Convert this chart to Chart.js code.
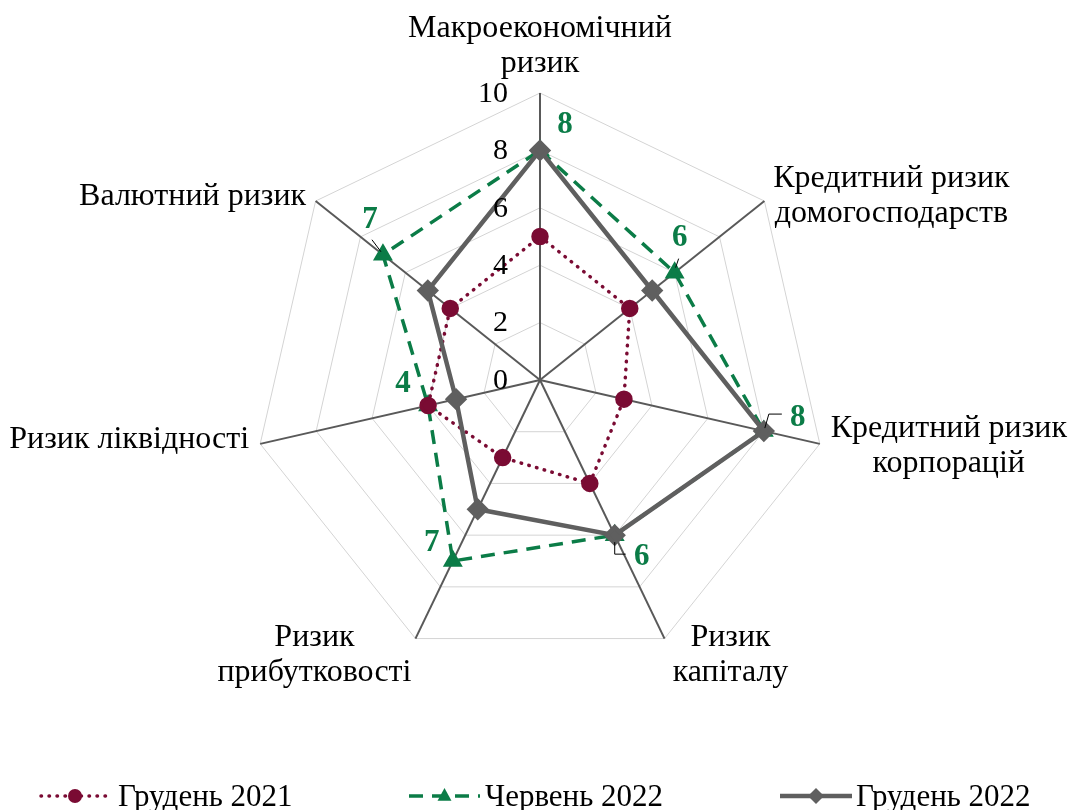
<!DOCTYPE html>
<html>
<head>
<meta charset="utf-8">
<script src="https://cdn.jsdelivr.net/npm/chart.js@4.4.1/dist/chart.umd.min.js"></script>
<style>
  body { margin: 0; background: #fff; }
  #wrap { width: 1072px; height: 810px; }
</style>
</head>
<body>
<div id="wrap"><canvas id="riskChart" width="1072" height="810"></canvas></div>
<script>
// axis names (multi-line)
const categories = [
  ['Макроекономічний', 'ризик'],
  ['Кредитний ризик', 'домогосподарств'],
  ['Кредитний ризик', 'корпорацій'],
  ['Ризик', 'капіталу'],
  ['Ризик', 'прибутковості'],
  ['Ризик ліквідності'],
  ['Валютний ризик']
];

// series values
const dec2021 = [5, 4, 3, 4, 3, 4, 4];
const jun2022 = [8, 6, 8, 6, 7, 4, 7];
const dec2022 = [8, 5, 8, 6, 5, 3, 5];
const seriesNames = ['Грудень 2021', 'Червень 2022', 'Грудень 2022'];

// scale ticks
const scaleMin = 0;
const scaleMax = 10;
const scaleStep = 2;

const maroon = '#7a0b33';
const green = '#0b7c47';
const grey = '#5f5f5f';
const serif = '"Liberation Serif", "Times New Roman", serif';

// where each axis name sits relative to the end of its spoke (first baseline)
const nameOffsets = [[0, -56], [127, -14], [129, -7], [66, 7], [-101, 7], [-131, 4], [-123, 4]];
// green value labels, relative to their point
const valueOffsets = [[25, -25], [5, -35], [34, -13], [27, 22], [-21, -18], [-25, -22], [-13, -35]];
// small leader lines next to some value labels
const leaders = {
  1: [[4, -14], [1, -5]],
  2: [[18, -17], [5, -17], [1, -3]],
  3: [[0, 7], [0, 19], [11, 19]],
  6: [[-11, -15], [-2, -3]]
};

function drawMarker(ctx, style, x, y, r, color) {
  ctx.fillStyle = color;
  ctx.beginPath();
  if (style === 'circle') {
    ctx.arc(x, y, r, 0, Math.PI * 2);
  } else if (style === 'triangle') {
    ctx.moveTo(x, y - r);
    ctx.lineTo(x + r * 0.87, y + r * 0.6);
    ctx.lineTo(x - r * 0.87, y + r * 0.6);
  } else {
    ctx.moveTo(x, y - r);
    ctx.lineTo(x + r, y);
    ctx.lineTo(x, y + r);
    ctx.lineTo(x - r, y);
  }
  ctx.closePath();
  ctx.fill();
}

const overlay = {
  id: 'overlay',
  afterDatasetsDraw(chart) {
    const ctx = chart.ctx;
    const scale = chart.scales.r;
    ctx.save();

    // tick numbers to the left of the top spoke
    ctx.fillStyle = '#000';
    ctx.font = '30px ' + serif;
    ctx.textAlign = 'right';
    ctx.textBaseline = 'middle';
    scale.ticks.forEach(t => {
      const p = scale.getPointPositionForValue(0, t.value);
      ctx.fillText(t.label, p.x - 32, p.y + 1);
    });

    // axis names
    ctx.font = '32px ' + serif;
    ctx.textAlign = 'center';
    ctx.textBaseline = 'alphabetic';
    categories.forEach((lines, i) => {
      const end = scale.getPointPosition(i, scale.drawingArea);
      const [dx, dy] = nameOffsets[i];
      lines.forEach((line, k) => ctx.fillText(line, end.x + dx, end.y + dy + k * 35));
    });

    // value labels of the June 2022 series
    const meta = chart.getDatasetMeta(1);
    ctx.font = 'bold 31px ' + serif;
    ctx.fillStyle = green;
    ctx.textBaseline = 'middle';
    meta.data.forEach((pt, i) => {
      const [dx, dy] = valueOffsets[i];
      ctx.fillText(String(jun2022[i]), pt.x + dx, pt.y + dy);
      if (leaders[i]) {
        ctx.strokeStyle = '#000';
        ctx.lineWidth = 1;
        ctx.beginPath();
        leaders[i].forEach(([lx, ly], k) => {
          if (k === 0) ctx.moveTo(pt.x + lx, pt.y + ly);
          else ctx.lineTo(pt.x + lx, pt.y + ly);
        });
        ctx.stroke();
      }
    });

    // legend
    const items = [
      { x1: 41, x2: 109, text: 118 },
      { x1: 409, x2: 480, text: 485 },
      { x1: 780, x2: 852, text: 856 }
    ];
    const ly = 796;
    chart.data.datasets.forEach((ds, i) => {
      const it = items[i];
      ctx.strokeStyle = ds.borderColor;
      ctx.lineWidth = ds.borderWidth;
      ctx.lineCap = ds.borderCapStyle || 'butt';
      ctx.setLineDash(ds.borderDash || []);
      ctx.beginPath();
      ctx.moveTo(it.x1, ly);
      ctx.lineTo(it.x2, ly);
      ctx.stroke();
      ctx.setLineDash([]);
      drawMarker(ctx, ds.pointStyle, (it.x1 + it.x2) / 2, ly, ds.pointRadius, ds.borderColor);
      ctx.fillStyle = '#000';
      ctx.font = '31px ' + serif;
      ctx.textAlign = 'left';
      ctx.textBaseline = 'alphabetic';
      ctx.fillText(ds.label, it.text, ly + 10);
    });

    ctx.restore();
  }
};

new Chart(document.getElementById('riskChart'), {
  type: 'radar',
  data: {
    labels: categories,
    datasets: [
      {
        label: seriesNames[0],
        data: dec2021,
        borderColor: maroon,
        backgroundColor: 'transparent',
        borderWidth: 3.5,
        borderDash: [0.5, 7.5],
        borderCapStyle: 'round',
        pointStyle: 'circle',
        pointRadius: 7,
        pointBackgroundColor: maroon,
        pointBorderColor: maroon,
        fill: false,
        order: 1
      },
      {
        label: seriesNames[1],
        data: jun2022,
        borderColor: green,
        backgroundColor: 'transparent',
        borderWidth: 3.5,
        borderDash: [14, 9],
        pointStyle: 'triangle',
        pointRadius: 8,
        pointBackgroundColor: green,
        pointBorderColor: green,
        fill: false,
        order: 2
      },
      {
        label: seriesNames[2],
        data: dec2022,
        borderColor: grey,
        backgroundColor: 'transparent',
        borderWidth: 4.5,
        pointStyle: 'rectRot',
        pointRadius: 8,
        pointBackgroundColor: grey,
        pointBorderColor: grey,
        fill: false,
        order: 0
      }
    ]
  },
  options: {
    responsive: false,
    animation: false,
    events: [],
    layout: { padding: { top: 93, bottom: 143, left: 253, right: 245 } },
    plugins: { legend: { display: false }, tooltip: { enabled: false } },
    elements: { line: { tension: 0 } },
    scales: {
      r: {
        min: scaleMin,
        max: scaleMax,
        ticks: { stepSize: scaleStep, display: false },
        grid: { color: '#d4d4d4', lineWidth: 1 },
        angleLines: { color: '#595959', lineWidth: 2 },
        pointLabels: { display: false }
      }
    }
  },
  plugins: [overlay]
});
</script>
</body>
</html>
